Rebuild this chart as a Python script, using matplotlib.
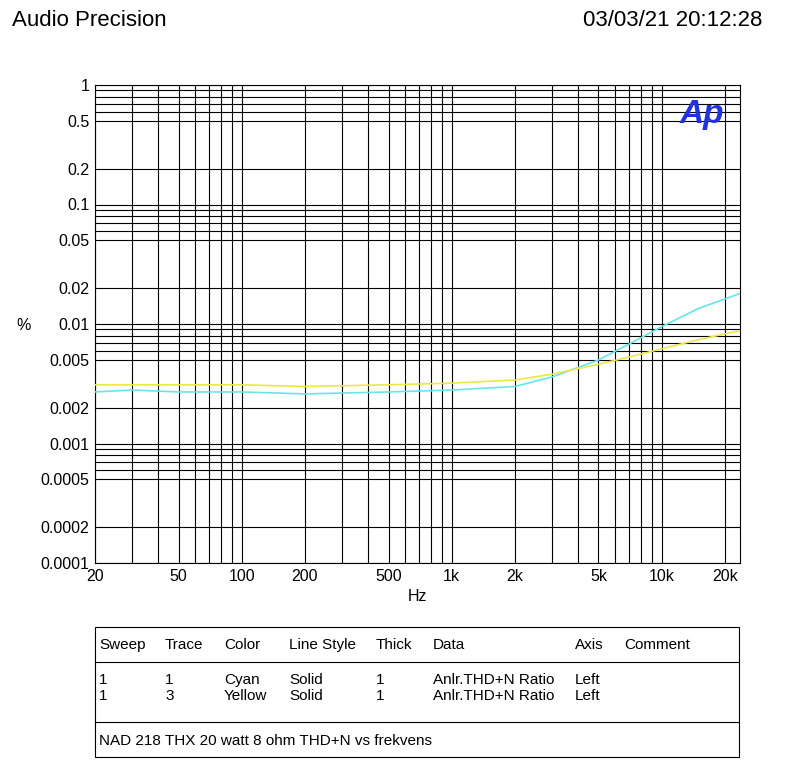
import matplotlib
matplotlib.use("Agg")
import matplotlib.pyplot as plt
from matplotlib.patches import Rectangle
from matplotlib.lines import Line2D
import numpy as np

plt.rcParams["font.family"] = "Liberation Sans"

freq_c = [20, 30, 50, 100, 200, 500, 1000, 2000, 3000, 5000, 7000, 10000, 15000, 23600]
cyan = [0.0027, 0.0028, 0.0027, 0.0027, 0.0026, 0.0027, 0.0028, 0.003, 0.0036, 0.005, 0.0068, 0.0095, 0.0135, 0.018]
freq_y = [20, 50, 100, 200, 500, 1000, 2000, 3000, 5000, 7000, 10000, 15000, 23600]
yellow = [0.0031, 0.0031, 0.0031, 0.003, 0.0031, 0.0032, 0.0034, 0.0038, 0.0046, 0.0053, 0.0062, 0.0074, 0.0088]
yticks = [1, 0.5, 0.2, 0.1, 0.05, 0.02, 0.01, 0.005, 0.002, 0.001, 0.0005, 0.0002, 0.0001]
ylabels = ["1", "0.5", "0.2", "0.1", "0.05", "0.02", "0.01", "0.005", "0.002", "0.001", "0.0005", "0.0002", "0.0001"]
xticks = [20, 50, 100, 200, 500, 1000, 2000, 5000, 10000, 20000]
xlabels = ["20", "50", "100", "200", "500", "1k", "2k", "5k", "10k", "20k"]

W, H = 805, 784
fig = plt.figure(figsize=(W/100, H/100), dpi=100)
ax = fig.add_axes([95/W, 1-563/H, 645/W, 478/H])
ax.set_xscale("log"); ax.set_yscale("log")
ax.set_xlim(20, 23600); ax.set_ylim(1e-4, 1)

for d in [1e-4, 1e-3, 1e-2, 1e-1]:
    for m in [1, 2, 5, 6, 7, 8, 9]:
        ax.axhline(d*m, color="black", lw=0.8, zorder=1)
ax.axhline(1, color="black", lw=0.8)
for d in [10, 100, 1000, 10000]:
    for m in range(1, 10):
        v = d*m
        if 20 <= v <= 23600:
            ax.axvline(v, color="black", lw=0.8, zorder=1)

ax.plot(freq_c, cyan, color="#66e6e6", lw=1.2, zorder=3)
ax.plot(freq_y, yellow, color="#e8e84a", lw=1.2, zorder=3)

ax.set_yticks(yticks); ax.set_yticklabels(ylabels)
ax.set_xticks(xticks); ax.set_xticklabels(xlabels)
ax.minorticks_off()
ax.tick_params(length=0, labelsize=11.5, pad=4)
for s in ax.spines.values():
    s.set_linewidth(0.8)
ax.set_xlabel("Hz", fontsize=11.5)
fig.text(16/W, 1-325/H, "%", fontsize=11.5, va="center")
ax.text(0.975, 0.97, "Ap", transform=ax.transAxes, ha="right", va="top",
        fontsize=24, fontweight="bold", fontstyle="italic", color="#2233dd", zorder=5)

fig.text(12/W, 1-21/H, "Audio Precision", fontsize=16, va="center")
fig.text(762/W, 1-21/H, "03/03/21 20:12:28", fontsize=16, va="center", ha="right")

fig.add_artist(Rectangle((95/W, 1-757/H), 644/W, 130/H, transform=fig.transFigure, fill=False, lw=0.8, color="black"))
for yy in [662, 722]:
    fig.add_artist(Line2D([95/W, 739/W], [1-yy/H, 1-yy/H], transform=fig.transFigure, lw=0.8, color="black"))
cols = [99, 165, 224, 289, 376, 433, 575, 624]
hdr = ["Sweep", "Trace", "Color", "Line Style", "Thick", "Data", "Axis", "Comment"]
r1 = ["1", "1", "Cyan", "Solid", "1", "Anlr.THD+N Ratio", "Left", ""]
r2 = ["1", "3", "Yellow", "Solid", "1", "Anlr.THD+N Ratio", "Left", ""]
for x, a, b, c in zip(cols, hdr, r1, r2):
    fig.text(x/W, 1-645/H, a, fontsize=11, va="center")
    fig.text(x/W, 1-680/H, b, fontsize=11, va="center")
    fig.text(x/W, 1-696/H, c, fontsize=11, va="center")
fig.text(99/W, 1-741/H, "NAD 218 THX 20 watt 8 ohm THD+N vs frekvens", fontsize=11, va="center")

fig.savefig("out.png", dpi=100, facecolor="white")
